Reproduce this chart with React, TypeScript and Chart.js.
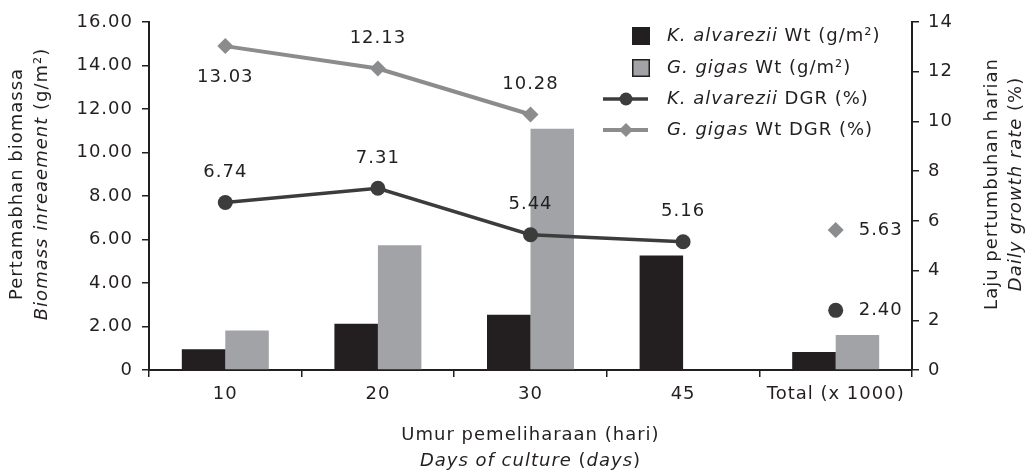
import React, { useEffect, useRef } from 'react';
import { Chart, registerables } from 'chart.js';

Chart.register(...registerables);

// ---- data ----
const categories = ['10', '20', '30', '45', 'Total (x 1000)'];
const kAlvareziiWt = [0.95, 2.13, 2.54, 5.27, 0.83];
const gGigasWt = [1.82, 5.73, 11.09, null, 1.61];
const kAlvareziiDGR = [6.74, 7.31, 5.44, 5.16, 2.4];
const gGigasDGR = [13.03, 12.13, 10.28, null, 5.63];
const kLabelPos = ['above', 'above', 'above', 'above', 'right'];
const gLabelPos = ['below', 'above', 'above', 'none', 'right'];
const leftMax = 16;
const rightMax = 14;
const tickStep = 2;

const FONT = '"DejaVu Sans", sans-serif';
const TXT = '#231f20';
const BLACK = '#231f20';
const GRAY_BAR = '#a1a3a6';
const K_LINE = '#3c3c3c';
const G_LINE = '#8b8c8e';
const FS = 18;
const LS = '1px';

type Run = { t: string; i?: boolean };

function fontStr(italic: boolean | undefined, size = FS) {
  return `${italic ? 'italic ' : ''}${size}px ${FONT}`;
}

function drawRuns(ctx: CanvasRenderingContext2D, runs: Run[], x: number, y: number, align: 'center' | 'left') {
  const widths = runs.map((r) => {
    ctx.font = fontStr(r.i);
    return ctx.measureText(r.t).width;
  });
  const total = widths.reduce((a, b) => a + b, 0);
  let cx = align === 'center' ? x - total / 2 : x;
  ctx.textAlign = 'left';
  ctx.textBaseline = 'middle';
  runs.forEach((r, idx) => {
    ctx.font = fontStr(r.i);
    ctx.fillText(r.t, cx, y);
    cx += widths[idx];
  });
}

const spacingPlugin = {
  id: 'spacing',
  beforeLayout(chart: any) {
    chart.ctx.letterSpacing = LS;
  },
  beforeDraw(chart: any) {
    chart.ctx.letterSpacing = LS;
  },
};

const labelPlugin = {
  id: 'valueLabels',
  afterDatasetsDraw(chart: any) {
    const ctx = chart.ctx as CanvasRenderingContext2D;
    ctx.save();
    (ctx as any).letterSpacing = LS;
    ctx.fillStyle = TXT;
    ctx.font = fontStr(false);
    ctx.textBaseline = 'middle';
    const specs = [
      { idx: 2, data: kAlvareziiDGR, pos: kLabelPos },
      { idx: 3, data: gGigasDGR, pos: gLabelPos },
    ];
    specs.forEach((s) => {
      const meta = chart.getDatasetMeta(s.idx);
      meta.data.forEach((pt: any, i: number) => {
        const v = s.data[i];
        if (v === null || v === undefined) return;
        const p = s.pos[i];
        const txt = v.toFixed(2);
        if (p === 'above') {
          ctx.textAlign = 'center';
          ctx.fillText(txt, pt.x, pt.y - 30);
        } else if (p === 'below') {
          ctx.textAlign = 'center';
          ctx.fillText(txt, pt.x, pt.y + 31);
        } else if (p === 'right') {
          ctx.textAlign = 'left';
          ctx.fillText(txt, pt.x + 23, pt.y);
        }
      });
    });
    ctx.restore();
  },
};

const decorPlugin = {
  id: 'decor',
  afterDraw(chart: any) {
    const ctx = chart.ctx as CanvasRenderingContext2D;
    const area = chart.chartArea;
    ctx.save();
    (ctx as any).letterSpacing = LS;
    ctx.fillStyle = TXT;

    // ---- legend ----
    const lx = 632;
    const tx = 667;
    const rows = [36, 68, 99, 130];
    // row 1: black square
    ctx.fillStyle = BLACK;
    ctx.fillRect(lx, rows[0] - 9, 18, 18);
    // row 2: gray square with dark border
    ctx.fillStyle = GRAY_BAR;
    ctx.fillRect(lx, rows[1] - 9, 18, 18);
    ctx.strokeStyle = BLACK;
    ctx.lineWidth = 1.5;
    ctx.strokeRect(lx + 0.75, rows[1] - 9 + 0.75, 16.5, 16.5);
    // row 3: dark line + circle
    ctx.strokeStyle = K_LINE;
    ctx.lineWidth = 3.5;
    ctx.beginPath();
    ctx.moveTo(603, rows[2]);
    ctx.lineTo(648, rows[2]);
    ctx.stroke();
    ctx.fillStyle = K_LINE;
    ctx.beginPath();
    ctx.arc(626, rows[2], 6.5, 0, Math.PI * 2);
    ctx.fill();
    // row 4: gray line + diamond
    ctx.strokeStyle = G_LINE;
    ctx.lineWidth = 4;
    ctx.beginPath();
    ctx.moveTo(603, rows[3]);
    ctx.lineTo(648, rows[3]);
    ctx.stroke();
    ctx.fillStyle = G_LINE;
    ctx.beginPath();
    ctx.moveTo(626, rows[3] - 7);
    ctx.lineTo(633, rows[3]);
    ctx.lineTo(626, rows[3] + 7);
    ctx.lineTo(619, rows[3]);
    ctx.closePath();
    ctx.fill();

    ctx.fillStyle = TXT;
    drawRuns(ctx, [{ t: 'K. alvarezii', i: true }, { t: ' Wt (g/m²)' }], tx, rows[0], 'left');
    drawRuns(ctx, [{ t: 'G. gigas', i: true }, { t: ' Wt (g/m²)' }], tx, rows[1], 'left');
    drawRuns(ctx, [{ t: 'K. alvarezii', i: true }, { t: ' DGR (%)' }], tx, rows[2], 'left');
    drawRuns(ctx, [{ t: 'G. gigas', i: true }, { t: ' Wt DGR (%)' }], tx, rows[3], 'left');

    // ---- x-axis title ----
    const cx = (area.left + area.right) / 2;
    drawRuns(ctx, [{ t: 'Umur pemeliharaan (hari)' }], cx, 435, 'center');
    drawRuns(
      ctx,
      [{ t: 'Days of culture', i: true }, { t: ' (' }, { t: 'days', i: true }, { t: ')' }],
      cx,
      461,
      'center'
    );

    // ---- left y title ----
    const cy = 184;
    ctx.save();
    ctx.translate(17, cy);
    ctx.rotate(-Math.PI / 2);
    drawRuns(ctx, [{ t: 'Pertamabhan biomassa' }], 0, 0, 'center');
    ctx.restore();
    ctx.save();
    ctx.translate(42, cy);
    ctx.rotate(-Math.PI / 2);
    drawRuns(ctx, [{ t: 'Biomass inreaement', i: true }, { t: ' (g/m²)' }], 0, 0, 'center');
    ctx.restore();

    // ---- right y title ----
    ctx.save();
    ctx.translate(992, cy);
    ctx.rotate(-Math.PI / 2);
    drawRuns(ctx, [{ t: 'Laju pertumbuhan harian' }], 0, 0, 'center');
    ctx.restore();
    ctx.save();
    ctx.translate(1016, cy);
    ctx.rotate(-Math.PI / 2);
    drawRuns(ctx, [{ t: 'Daily growth rate', i: true }, { t: ' (%)' }], 0, 0, 'center');
    ctx.restore();

    ctx.restore();
  },
};

export default function App() {
  const ref = useRef<HTMLCanvasElement>(null);

  useEffect(() => {
    const canvas = ref.current;
    if (!canvas) return;
    const tickFont = { family: FONT, size: FS };
    const chart = new Chart(canvas, {
      type: 'bar',
      data: {
        labels: categories,
        datasets: [
          {
            type: 'bar',
            label: 'K. alvarezii Wt (g/m²)',
            data: kAlvareziiWt,
            backgroundColor: BLACK,
            yAxisID: 'y',
            order: 2,
            categoryPercentage: 0.57,
            barPercentage: 1.0,
          },
          {
            type: 'bar',
            label: 'G. gigas Wt (g/m²)',
            data: gGigasWt,
            backgroundColor: GRAY_BAR,
            yAxisID: 'y',
            order: 2,
            categoryPercentage: 0.57,
            barPercentage: 1.0,
          },
          {
            type: 'line',
            label: 'K. alvarezii DGR (%)',
            data: kAlvareziiDGR,
            borderColor: K_LINE,
            backgroundColor: K_LINE,
            borderWidth: 3.5,
            pointStyle: 'circle',
            pointRadius: 7.5,
            pointBorderWidth: 0,
            pointBackgroundColor: K_LINE,
            tension: 0,
            yAxisID: 'y1',
            order: 1,
            segment: {
              borderColor: (c: any) => (c.p1DataIndex === 4 ? 'rgba(0,0,0,0)' : K_LINE),
            },
          },
          {
            type: 'line',
            label: 'G. gigas Wt DGR (%)',
            data: gGigasDGR,
            borderColor: G_LINE,
            backgroundColor: G_LINE,
            borderWidth: 4,
            pointStyle: 'rectRot',
            pointRadius: 8,
            pointBorderWidth: 0,
            pointBackgroundColor: G_LINE,
            tension: 0,
            spanGaps: false,
            yAxisID: 'y1',
            order: 0,
          },
        ] as any,
      },
      options: {
        animation: false,
        responsive: true,
        maintainAspectRatio: false,
        layout: { padding: { top: 22, left: 0, right: 0, bottom: 0 } },
        plugins: {
          legend: { display: false },
          tooltip: { enabled: false },
        },
        scales: {
          x: {
            type: 'category',
            offset: true,
            grid: {
              offset: true,
              drawOnChartArea: false,
              drawTicks: true,
              tickLength: 7,
              color: BLACK,
              lineWidth: 1.5,
            },
            border: { display: true, color: BLACK, width: 2 },
            ticks: { font: tickFont, color: TXT, padding: 7, maxRotation: 0, autoSkip: false },
            afterFit: (s: any) => {
              s.height = 102;
            },
          },
          y: {
            position: 'left',
            min: 0,
            max: leftMax,
            grid: {
              drawOnChartArea: false,
              drawTicks: true,
              tickLength: 7,
              color: BLACK,
              lineWidth: 1.5,
            },
            border: { display: true, color: BLACK, width: 2 },
            ticks: {
              stepSize: tickStep,
              font: tickFont,
              color: TXT,
              padding: 9,
              callback: (v: any) => (Number(v) === 0 ? '0' : Number(v).toFixed(2)),
            },
            afterFit: (s: any) => {
              s.width = 149;
            },
          },
          y1: {
            position: 'right',
            min: 0,
            max: rightMax,
            grid: {
              drawOnChartArea: false,
              drawTicks: true,
              tickLength: 7,
              color: BLACK,
              lineWidth: 1.5,
            },
            border: { display: true, color: BLACK, width: 2 },
            ticks: {
              stepSize: tickStep,
              font: tickFont,
              color: TXT,
              padding: 9,
              callback: (v: any) => String(v),
            },
            afterFit: (s: any) => {
              s.width = 121;
            },
          },
        },
      } as any,
      plugins: [spacingPlugin, labelPlugin, decorPlugin],
    });
    return () => chart.destroy();
  }, []);

  return (
    <div style={{ position: 'absolute', left: 0, top: 0, width: 1033, height: 472 }}>
      <canvas ref={ref} />
    </div>
  );
}
